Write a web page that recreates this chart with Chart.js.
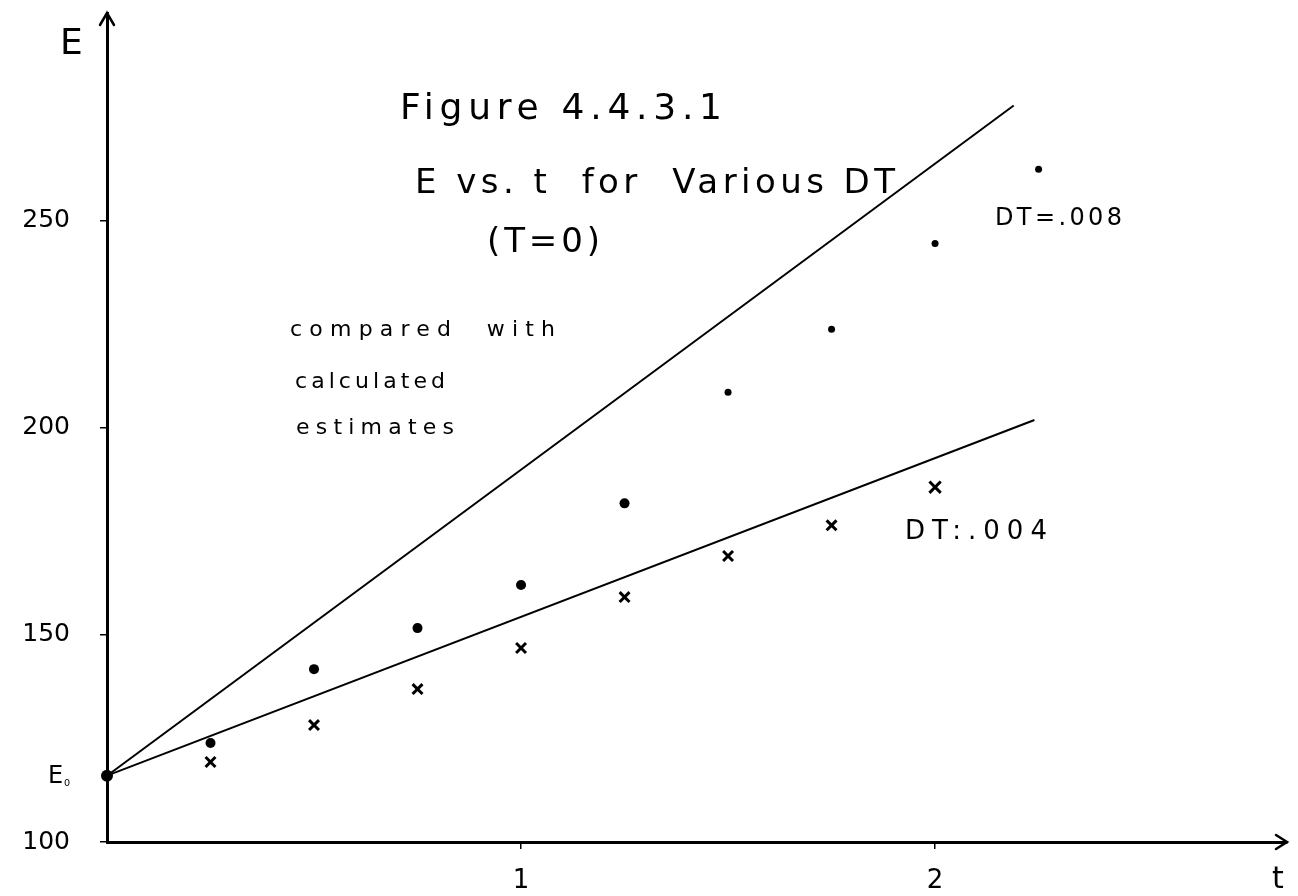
<!DOCTYPE html>
<html><head><meta charset="utf-8">
<script src="https://cdn.jsdelivr.net/npm/chart.js@4.4.1/dist/chart.umd.min.js"></script>
<style>html,body{margin:0;padding:0;background:#fff;} #wrap{width:1298px;height:896px;position:relative;}</style>
</head><body><div id="wrap"><canvas id="c"></canvas></div>
<script>
// ---- data ----
const E0 = 116;
const tDots = [0, 0.25, 0.5, 0.75, 1.0, 1.25, 1.5, 1.75, 2.0, 2.25];
const eDT008 = [116, 123.9, 141.7, 151.6, 162.0, 181.7, 208.5, 223.7, 244.4, 262.3];
const tCross = [0.25, 0.5, 0.75, 1.0, 1.25, 1.5, 1.75, 2.0];
const eDT004 = [119.3, 128.2, 136.9, 146.8, 159.1, 169.0, 176.4, 185.6];
const tUpperLine = [0, 2.19];
const eUpperLine = [116, 277.7];
const tLowerLine = [0, 2.24];
const eLowerLine = [116, 201.8];
const yTickValues = [100, 150, 200, 250];
const yTickLabels = ['100', '150', '200', '250'];
const xTickValues = [1, 2];
const xTickLabels = ['1', '2'];

const FONT = "'DejaVu Sans', sans-serif";
const pts = (xs, ys) => xs.map((x, i) => ({x: x, y: ys[i]}));

function drawFit(ctx, text, x, yc, size, width) {
  ctx.save();
  ctx.font = size + 'px ' + FONT;
  ctx.letterSpacing = '0px';
  const w = ctx.measureText(text).width;
  const n = text.length;
  let ls = width ? (width - w) / Math.max(1, n - 1) : 0;
  ctx.letterSpacing = ls + 'px';
  ctx.fillStyle = '#000';
  ctx.textBaseline = 'middle';
  ctx.textAlign = 'left';
  ctx.fillText(text, x, yc);
  ctx.restore();
}

const annot = {
  id: 'annot',
  afterDraw(chart) {
    const ctx = chart.ctx;
    const xs = chart.scales.x, ys = chart.scales.y;
    const ox = xs.left, oy = ys.bottom;
    ctx.save();
    ctx.strokeStyle = '#000';
    ctx.lineWidth = 2.5;
    ctx.lineCap = 'round';
    // arrow on y axis
    ctx.beginPath();
    ctx.moveTo(ox - 7, ys.top + 12);
    ctx.lineTo(ox, ys.top);
    ctx.lineTo(ox + 7, ys.top + 12);
    ctx.stroke();
    // arrow on x axis
    ctx.beginPath();
    ctx.moveTo(xs.right - 11, oy - 7);
    ctx.lineTo(xs.right, oy);
    ctx.lineTo(xs.right - 11, oy + 7);
    ctx.stroke();
    ctx.restore();

    // axis names
    drawFit(ctx, 'E', 60, 45, 36, 0);
    drawFit(ctx, 't', 1272, 880, 30, 0);
    // E0 label
    const e0y = ys.getPixelForValue(E0);
    ctx.save();
    ctx.font = '24px ' + FONT; ctx.fillStyle = '#000';
    ctx.textBaseline = 'middle';
    ctx.fillText('E', 48, e0y + 1);
    ctx.font = '15px ' + FONT;
    ctx.fillText('\u2080', 64, e0y + 6);
    ctx.restore();

    // titles & notes
    drawFit(ctx, 'Figure 4.4.3.1', 400, 110, 36, 322);
    drawFit(ctx, 'E vs. t  for  Various DT', 415, 184, 34, 480);
    drawFit(ctx, '(T=0)', 487, 243, 34, 113);
    drawFit(ctx, 'compared  with', 290, 330, 22, 265);
    drawFit(ctx, 'calculated', 295, 382, 22, 150);
    drawFit(ctx, 'estimates', 296, 428, 22, 158);
    drawFit(ctx, 'DT=.008', 995, 219, 24, 127);
    drawFit(ctx, 'DT:.004', 905, 532, 26, 142);
  }
};

new Chart(document.getElementById('c'), {
  type: 'scatter',
  data: {
    datasets: [
      { label: 'upper line', data: pts(tUpperLine, eUpperLine), showLine: true,
        borderColor: '#000', borderWidth: 2, pointRadius: 0, fill: false },
      { label: 'lower line', data: pts(tLowerLine, eLowerLine), showLine: true,
        borderColor: '#000', borderWidth: 2, pointRadius: 0, fill: false },
      { label: 'DT=.008', data: pts(tDots, eDT008), pointStyle: 'circle',
        backgroundColor: '#000', borderColor: '#000', borderWidth: 0,
        pointRadius: c => (c.dataIndex === 0 ? 6 : (c.dataIndex <= 5 ? 5 : 3.5)) },
      { label: 'DT=.004', data: pts(tCross, eDT004), pointStyle: 'crossRot',
        borderColor: '#000', borderWidth: 3,
        pointRadius: c => (c.dataIndex === 7 ? 8 : 7) }
    ]
  },
  options: {
    responsive: true, maintainAspectRatio: false, animation: false,
    clip: false,
    layout: { padding: { top: 13, right: 11, left: 0, bottom: 0 } },
    plugins: { legend: { display: false }, tooltip: { enabled: false }, title: { display: false } },
    scales: {
      x: {
        type: 'linear', min: 0, max: 2.85,
        afterFit: s => { s.height = 54; s.paddingLeft = 0; s.paddingRight = 0; },
        afterBuildTicks: s => { s.ticks = xTickValues.map(v => ({value: v})); },
        grid: { display: true, drawOnChartArea: false, drawTicks: true, tickLength: 7, color: '#000', lineWidth: 1.5 },
        border: { display: true, color: '#000', width: 3 },
        ticks: { color: '#000', font: { family: FONT, size: 26 }, padding: 17,
                 maxRotation: 0, autoSkip: false,
                 callback: (v) => { const i = xTickValues.indexOf(v); return i >= 0 ? xTickLabels[i] : ''; } }
      },
      y: {
        type: 'linear', min: 100, max: 300,
        afterFit: s => { s.width = 107; s.paddingTop = 0; s.paddingBottom = 0; },
        afterBuildTicks: s => { s.ticks = yTickValues.map(v => ({value: v})); },
        grid: { display: true, drawOnChartArea: false, drawTicks: true, tickLength: 7, color: '#000', lineWidth: 1.5 },
        border: { display: true, color: '#000', width: 3 },
        ticks: { color: '#000', font: { family: FONT, size: 25 }, padding: 30, autoSkip: false,
                 callback: (v) => { const i = yTickValues.indexOf(v); return i >= 0 ? yTickLabels[i] : ''; } }
      }
    }
  },
  plugins: [annot]
});
</script>
</body></html>
